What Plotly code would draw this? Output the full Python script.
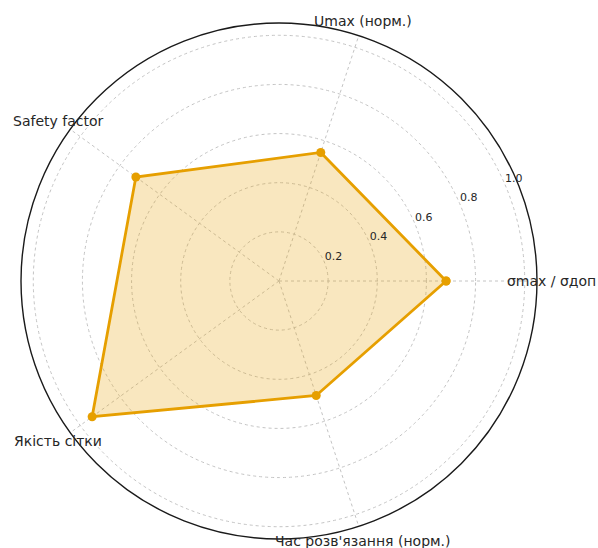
import math
import plotly.graph_objects as go

# Criteria and their normalised scores
categories = ["σmax / σдоп", "Umax (норм.)", "Safety factor", "Якість сітки", "Час розв'язання (норм.)"]
scores = [0.68, 0.55, 0.72, 0.94, 0.49]
radial_ticks = [0.2, 0.4, 0.6, 0.8, 1.0]
radial_tick_labels = ["0.2", "0.4", "0.6", "0.8", "1.0"]

ORANGE = "#E69F00"
TEXT = "#262626"
GRID = "#c4c4c4"
R_MAX = 1.05
W, H = 598, 548

# one spoke per criterion, evenly spread counter-clockwise from 0°
n = len(categories)
angles = [360.0 * i / n for i in range(n)]

theta_closed = angles + angles[:1]
r_closed = scores + scores[:1]

# square plotting area (pixels)
left, right, bottom, top = 21, 537, 9, 525

fig = go.Figure()

fig.add_trace(go.Scatterpolar(
    r=r_closed,
    theta=theta_closed,
    mode="lines+markers",
    fill="toself",
    fillcolor="rgba(230,159,0,0.25)",
    line=dict(color=ORANGE, width=2.8),
    marker=dict(color=ORANGE, size=9),
    showlegend=False,
    hoverinfo="skip",
))

# radial tick labels, set just outside each ring along a fixed bearing
fig.add_trace(go.Scatterpolar(
    r=[t + 0.042 for t in radial_ticks],
    theta=[23.5] * len(radial_ticks),
    mode="text",
    text=radial_tick_labels,
    textposition="middle center",
    textfont=dict(family="DejaVu Sans", size=11, color=TEXT),
    cliponaxis=False,
    showlegend=False,
    hoverinfo="skip",
))

# category names centred a little beyond the outer frame
cx = (left + right) / 2 / W
cy = (bottom + top) / 2 / H
label_r_px = (right - left) / 2 * 1.058
annotations = []
for name, ang in zip(categories, angles):
    a = math.radians(ang)
    annotations.append(dict(
        x=cx + label_r_px * math.cos(a) / W,
        y=cy + label_r_px * math.sin(a) / H,
        xref="paper", yref="paper",
        text=name, showarrow=False,
        xanchor="center", yanchor="middle",
        font=dict(family="DejaVu Sans", size=14, color=TEXT),
    ))

fig.update_layout(
    width=W,
    height=H,
    margin=dict(l=0, r=0, t=0, b=0),
    paper_bgcolor="white",
    plot_bgcolor="white",
    font=dict(family="DejaVu Sans", color=TEXT),
    annotations=annotations,
    polar=dict(
        domain=dict(x=[left / W, right / W], y=[bottom / H, top / H]),
        bgcolor="white",
        radialaxis=dict(
            range=[0, R_MAX],
            tickvals=radial_ticks,
            showticklabels=False,
            showline=False,
            ticks="",
            gridcolor=GRID,
            gridwidth=0.8,
            griddash="3px,3px",
        ),
        angularaxis=dict(
            type="linear",
            thetaunit="degrees",
            direction="counterclockwise",
            rotation=0,
            tickmode="array",
            tickvals=angles,
            showticklabels=False,
            ticks="",
            showline=True,
            linecolor="#1a1a1a",
            linewidth=1.4,
            gridcolor=GRID,
            gridwidth=0.8,
            griddash="3px,3px",
        ),
    ),
)

fig.write_html("out.html")
